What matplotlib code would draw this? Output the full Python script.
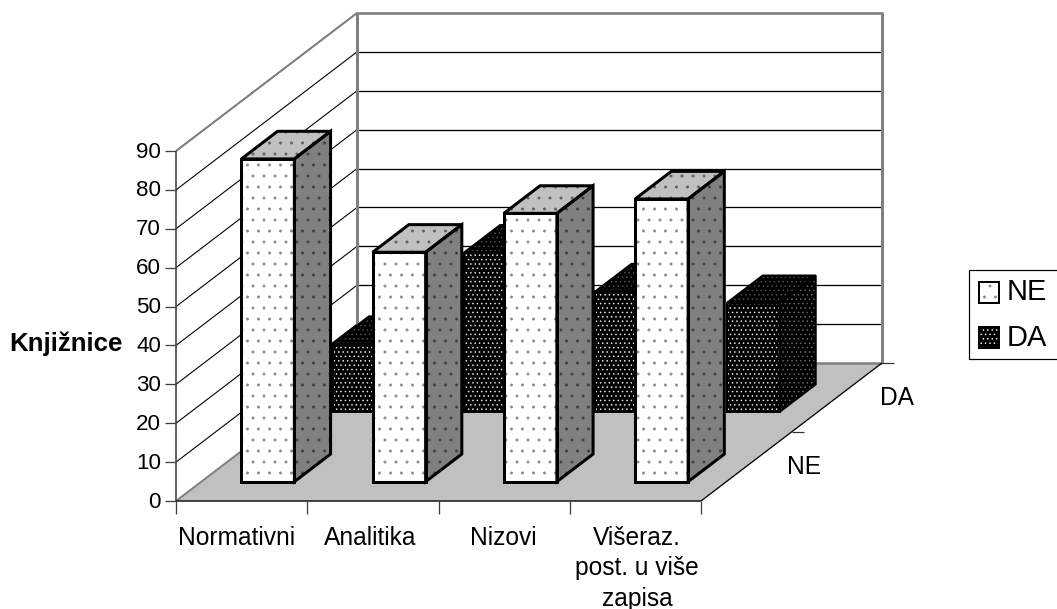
import matplotlib
matplotlib.use('Agg')
import matplotlib.pyplot as plt
from matplotlib.patches import Polygon, Rectangle

plt.rcParams['font.family'] = ['Liberation Sans', 'DejaVu Sans']
plt.rcParams['hatch.linewidth'] = 0.4

categories = ['Normativni', 'Analitika', 'Nizovi', 'Višeraz.\npost. u više\nzapisa']
series_names = ['NE', 'DA']
ne_values = [83, 59, 69, 72.7]
da_values = [17.5, 41, 31, 28]
y_ticks = [0, 10, 20, 30, 40, 50, 60, 70, 80, 90, 100]

DPI = 132
fig = plt.figure(figsize=(1057 / DPI, 609 / DPI), dpi=DPI)
ax = fig.add_axes([0, 0, 1, 1])
ax.set_xlim(0, 1057)
ax.set_ylim(609, 0)
ax.axis('off')

# oblique projection, all in image pixels
X0, Y0 = 176, 501
CAT_W = 131.25
DX, DY = 181, -138
UNIT = 350 / 90
FS = 13.4


def px(n):
    return n * 72 / DPI


def proj(u, d, v):
    # u = category position, d = depth 0..1, v = value
    return (X0 + u * CAT_W + d * DX, Y0 + d * DY - v * UNIT)


def line(a, b, color='black', lw=1, z=1):
    ax.plot([a[0], b[0]], [a[1], b[1]], color=color, lw=px(lw), zorder=z,
            solid_capstyle='butt')


n_cat = len(categories)

# back wall and left wall
for v in y_ticks[1:-1]:
    line(proj(0, 1, v), proj(n_cat, 1, v), lw=1.3)
    line(proj(0, 0, v), proj(0, 1, v), lw=1.1)
floor = [proj(0, 0, 0), proj(n_cat, 0, 0), proj(n_cat, 1, 0), proj(0, 1, 0)]
ax.add_patch(Polygon(floor, facecolor='#c0c0c0', edgecolor='none', zorder=1.5))

gray = '#808080'
line(proj(0, 1, 0), proj(0, 1, 90), gray, 3, 1.2)
line(proj(n_cat, 1, 0), proj(n_cat, 1, 90), gray, 3, 1.2)
line((proj(0, 1, 90)[0] - 1, proj(0, 1, 90)[1]), (proj(n_cat, 1, 90)[0] + 1, proj(n_cat, 1, 90)[1]), gray, 2.5, 1.2)
line(proj(0, 1, 0), proj(n_cat, 1, 0), gray, 2.5, 1.7)
line(proj(0, 0, 90), proj(0, 1, 90), gray, 2, 1.2)
line(proj(0, 0, 0), proj(0, 1, 0), gray, 2, 1.7)
line(proj(n_cat, 0, 0), proj(n_cat, 1, 0), lw=1.3, z=1.7)

# axes and ticks
line(proj(0, 0, 0), proj(0, 0, 90), '#404040', 1.6, 2)
line(proj(0, 0, 0), proj(n_cat, 0, 0), '#202020', 1.6, 2)
for v in y_ticks[:-1]:
    p = proj(0, 0, v)
    line((p[0] - 11, p[1]), p, '#404040', 1.3, 2)
    ax.text(p[0] - 15, p[1] + 1, str(v), ha='right', va='center', fontsize=FS - 1.2)
for i in range(n_cat + 1):
    p = proj(i, 0, 0)
    line(p, (p[0], p[1] + 13), '#404040', 1.3, 2)
for i, name in enumerate(categories):
    ax.text(237 + i * 133.3, 526, name, ha='center', va='top', fontsize=FS, linespacing=1.33)
for d in [0.5, 1.0]:
    p = proj(n_cat, d, 0)
    line(p, (p[0] + 12, p[1]), '#303030', 1.2, 2)
for p, name in zip([(804, 467), (897, 398)], series_names):
    ax.text(p[0], p[1], name, ha='center', va='center', fontsize=FS)
ax.text(66, 344, 'Knjižnice', ha='center', va='center', fontsize=14.1, fontweight='bold')


def bar3d(i, value, depth, faces, outline_lw, z):
    u0, u1 = i + 0.305, i + 0.305 + 53 / CAT_W
    d0, d1 = depth, depth + 0.2
    front = [proj(u0, d0, 0), proj(u1, d0, 0), proj(u1, d0, value), proj(u0, d0, value)]
    side = [proj(u1, d0, 0), proj(u1, d1, 0), proj(u1, d1, value), proj(u1, d0, value)]
    top = [proj(u0, d0, value), proj(u1, d0, value), proj(u1, d1, value), proj(u0, d1, value)]
    for pts, (fc, hc, hatch) in zip([side, top, front], faces):
        ax.add_patch(Polygon(pts, facecolor=fc, edgecolor=hc, hatch=hatch, lw=0, zorder=z))
        ax.add_patch(Polygon(pts, fill=False, edgecolor='black', lw=px(outline_lw),
                             joinstyle='miter', zorder=z + 0.01))


da_faces = [('#000000', '#6a6a6a', '.' * 5), ('#000000', '#505050', '.' * 5), ('#000000', '#e8e8e8', '.' * 5)]
ne_faces = [('#808080', '#404040', '..'), ('#c0c0c0', '#606060', '..'), ('#ffffff', '#8c8c8c', '..')]

for i, v in enumerate(da_values):
    bar3d(i, v, 0.645, da_faces, 2, 3 + i * 0.1)
for i, v in enumerate(ne_values):
    bar3d(i, v, 0.14, ne_faces, 3, 4 + i * 0.1)

# legend
ax.add_patch(Rectangle((969, 270), 100, 89, facecolor='white', edgecolor='black', lw=px(1.2), zorder=5))
swatches = [ne_faces[2], da_faces[2]]
for y, name, (fc, hc, hatch) in zip([282, 327], series_names, swatches):
    ax.add_patch(Rectangle((979, y), 20, 21, facecolor=fc, edgecolor=hc, hatch=hatch, lw=0, zorder=6))
    ax.add_patch(Rectangle((979, y), 20, 21, fill=False, edgecolor='black', lw=px(2), zorder=6.1))
    ax.text(1007, y + 10.5, name, ha='left', va='center', fontsize=15.8, zorder=6)

fig.savefig('out.png', dpi=DPI)
